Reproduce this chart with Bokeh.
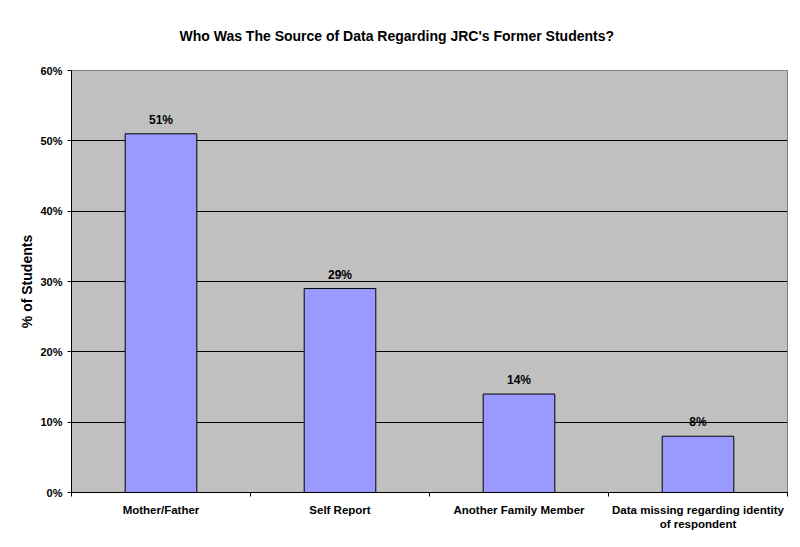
from bokeh.plotting import figure
from bokeh.models import ColumnDataSource, FixedTicker, Range1d, NumeralTickFormatter, LabelSet
from bokeh.core.properties import value
from bokeh.embed import file_html
from bokeh.resources import INLINE

title_text = "Who Was The Source of Data Regarding JRC's Former Students?"
categories = ["Mother/Father", "Self Report", "Another Family Member",
              "Data missing regarding identity\nof respondent"]
values = [0.51, 0.29, 0.14, 0.08]
value_labels = ["51%", "29%", "14%", "8%"]
y_ticks = [0, 0.1, 0.2, 0.3, 0.4, 0.5, 0.6]

xpos = [i + 0.5 for i in range(len(categories))]
src = ColumnDataSource(dict(x=xpos, top=values, lab=value_labels))

FONT = "Liberation Sans"
LEFT, FW, FH = 71, 716, 422

p = figure(output_backend="svg", toolbar_location=None,
           frame_width=FW, frame_height=FH,
           x_range=Range1d(0, len(categories)), y_range=Range1d(0, 0.6),
           min_border_left=LEFT, min_border_right=5, min_border_top=70, min_border_bottom=47,
           background_fill_color="#C0C0C0", border_fill_color="white",
           title=title_text)
p.outline_line_color = "#808080"
p.title.align = "left"
p.title.offset = 108
p.title.vertical_align = "top"
p.title.standoff = 50
p.title.text_font = FONT
p.title.text_font_size = "14px"
p.title.text_font_style = "bold"
p.title.text_color = "black"

p.vbar(x="x", top="top", width=0.4, source=src, fill_color="#9999FF", line_color="black", line_width=1)

labels = LabelSet(x="x", y="top", text="lab", source=src, text_align="center",
                  text_baseline="bottom", y_offset=7, text_font=value(FONT),
                  text_font_size=value("12px"), text_font_style="bold", text_color="black")
p.add_layout(labels)

# y axis
p.yaxis.ticker = FixedTicker(ticks=y_ticks)
p.yaxis.formatter = NumeralTickFormatter(format="0%")
p.yaxis.minor_tick_line_color = None
p.yaxis.major_tick_in = 0
p.yaxis.major_tick_out = 4
p.yaxis.major_label_standoff = 5
p.yaxis.major_label_text_font = FONT
p.yaxis.major_label_text_font_size = "11px"
p.yaxis.major_label_text_font_style = "bold"
p.yaxis.major_label_text_color = "black"
p.yaxis.axis_label = "% of Students"
p.yaxis.axis_label_text_font = FONT
p.yaxis.axis_label_text_font_size = "14px"
p.yaxis.axis_label_text_font_style = "bold"
p.yaxis.axis_label_text_color = "black"
p.yaxis.axis_label_standoff = 2
p.yaxis.axis_line_color = "black"

# x axis
p.xaxis.ticker = FixedTicker(ticks=xpos, minor_ticks=list(range(len(categories) + 1)))
p.xaxis.major_label_overrides = {x: c for x, c in zip(xpos, categories)}
p.xaxis.major_tick_line_color = None
p.xaxis.minor_tick_in = 0
p.xaxis.minor_tick_out = 4
p.xaxis.minor_tick_line_color = "black"
p.xaxis.major_label_standoff = 5
p.xaxis.major_label_text_font = FONT
p.xaxis.major_label_text_font_size = "11.5px"
p.xaxis.major_label_text_font_style = "bold"
p.xaxis.major_label_text_color = "black"
p.xaxis.axis_line_color = "black"

p.xgrid.grid_line_color = None
p.ygrid.ticker = FixedTicker(ticks=y_ticks[1:-1])
p.ygrid.grid_line_color = "black"
p.ygrid.grid_line_width = 1

open("out.html", "w").write(file_html(p, INLINE))
